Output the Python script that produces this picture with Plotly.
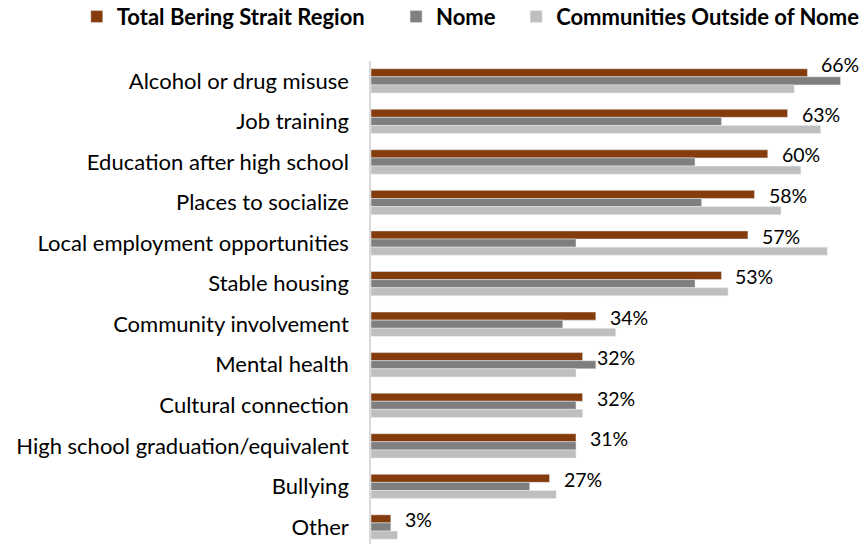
import plotly.graph_objects as go

categories = [
    'Alcohol or drug misuse',
    'Job training',
    'Education after high school',
    'Places to socialize',
    'Local employment opportunities',
    'Stable housing',
    'Community involvement',
    'Mental health',
    'Cultural connection',
    'High school graduation/equivalent',
    'Bullying',
    'Other',
]
total = [66, 63, 60, 58, 57, 53, 34, 32, 32, 31, 27, 3]
nome = [71, 53, 49, 50, 31, 49, 29, 34, 31, 31, 24, 3]
outside = [64, 68, 65, 62, 69, 54, 37, 31, 32, 31, 28, 4]

FONT = 'Lato, Calibri, sans-serif'

fig = go.Figure()
fig.add_trace(go.Bar(y=categories, x=total, orientation='h',
                     name='Total Bering Strait Region', legend='legend',
                     marker=dict(color='#843C0C')))
fig.add_trace(go.Bar(y=categories, x=nome, orientation='h',
                     name='Nome', legend='legend2',
                     marker=dict(color='#7F7F7F')))
fig.add_trace(go.Bar(y=categories, x=outside, orientation='h',
                     name='Communities Outside of Nome', legend='legend3',
                     marker=dict(color='#BFBFBF')))

# data labels for the total series, placed just right of the bar end
for cat, t, n in zip(categories, total, nome):
    # raise the label above the bars when the Nome bar would run into it
    lift = 16 if n - t > 3 else 7
    fig.add_annotation(x=t, y=cat, text=f'{t}%', showarrow=False,
                       xanchor='left', xshift=12, yshift=lift,
                       font=dict(size=19.5, color='#000000', family=FONT))

# one legend box per series so the gaps between entries match the original
legend_style = dict(orientation='h', xanchor='left', y=1.135, yanchor='top',
                    itemwidth=30, bgcolor='rgba(0,0,0,0)',
                    font=dict(size=22, family=FONT, weight='bold'))

fig.update_layout(
    width=865, height=544,
    barmode='group', bargap=0.4, bargroupgap=0,
    plot_bgcolor='white', paper_bgcolor='white',
    margin=dict(l=371, r=2, t=61, b=0, autoexpand=False),
    font=dict(family=FONT, size=22, color='#000000'),
    legend=dict(legend_style, x=-0.598),
    legend2=dict(legend_style, x=0.051),
    legend3=dict(legend_style, x=0.295),
    showlegend=True,
)
fig.update_xaxes(range=[0, 74.4], visible=False)
fig.update_yaxes(autorange=False, range=[11.42, -0.49], showline=True,
                 linecolor='#D9D9D9', linewidth=1.5, ticks='',
                 automargin=False, ticklabelstandoff=16,
                 tickfont=dict(size=22))

fig.write_html('out.html', config={'displayModeBar': False},
               post_script="document.body.style.margin='0';")
